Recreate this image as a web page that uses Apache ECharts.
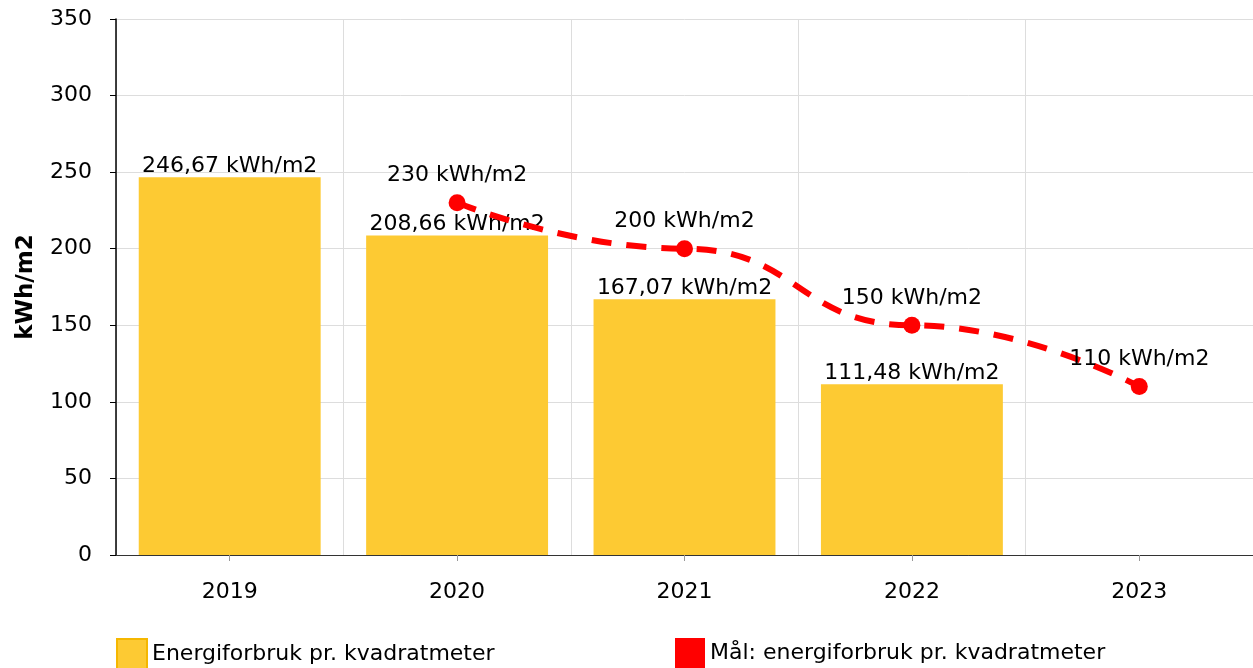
<!DOCTYPE html>
<html>
<head>
<meta charset="utf-8">
<script src="https://cdn.jsdelivr.net/npm/echarts@6/dist/echarts.min.js"></script>
<style>
html,body{margin:0;padding:0;background:#fff;}
#chart{width:1253px;height:668px;}
</style>
</head>
<body>
<div id="chart"></div>
<script>
var categories = ['2019', '2020', '2021', '2022', '2023'];
var energyValues = [246.67, 208.66, 167.07, 111.48, null];
var targetValues = [null, 230, 200, 150, 110];
var yTicks = {min: 0, max: 350, interval: 50};
var seriesNames = ['Energiforbruk pr. kvadratmeter', 'Mål: energiforbruk pr. kvadratmeter'];
var unit = ' kWh/m2';

var FONT = 'DejaVu Sans';
var FS = 22;
var chart = echarts.init(document.getElementById('chart'), null, {renderer: 'canvas'});
function fmt2(v){ return v.toFixed(2).replace('.', ',') + unit; }
function fmt0(v){ return String(v).replace('.', ',') + unit; }

chart.setOption({
  animation: false,
  backgroundColor: '#fff',
  textStyle: {fontFamily: FONT, color: '#000'},
  grid: {left: 116, right: 0, top: 19, bottom: 113, containLabel: false},
  legend: [{
    left: 116, top: 638, padding: 0, itemWidth: 30, itemHeight: 30,
    textStyle: {fontFamily: FONT, fontSize: FS, color: '#000'},
    data: [{name: seriesNames[0], icon: 'rect', itemStyle: {color: '#FDCA33', borderColor: '#F5B700', borderWidth: 2}}]
  }, {
    left: 675, top: 638, padding: 0, itemWidth: 30, itemHeight: 30,
    textStyle: {fontFamily: FONT, fontSize: FS, color: '#000'},
    data: [{name: seriesNames[1], icon: 'rect', itemStyle: {color: '#FF0000', borderWidth: 0}}]
  }],
  xAxis: {
    type: 'category',
    data: categories,
    axisLine: {show: true, lineStyle: {color: '#333', width: 1}},
    axisTick: {show: true, alignWithLabel: true, length: 6, lineStyle: {color: '#999'}},
    axisLabel: {fontFamily: FONT, fontSize: FS, color: '#000', margin: 26},
    splitLine: {show: true, lineStyle: {color: '#ddd', width: 1}}
  },
  yAxis: {
    type: 'value',
    min: yTicks.min, max: yTicks.max, interval: yTicks.interval,
    name: 'kWh/m2',
    nameLocation: 'middle',
    nameRotate: 90,
    nameGap: 78,
    nameTextStyle: {fontFamily: FONT, fontSize: 23, fontWeight: 'bold', color: '#000'},
    axisLine: {show: true, lineStyle: {color: '#000', width: 1.5}},
    axisTick: {show: true, length: 6, lineStyle: {color: '#000'}},
    axisLabel: {fontFamily: FONT, fontSize: FS, color: '#000', margin: 24},
    splitLine: {show: true, lineStyle: {color: '#ddd', width: 1}}
  },
  series: [{
    name: seriesNames[0],
    type: 'bar',
    data: energyValues,
    barCategoryGap: '20%',
    itemStyle: {color: '#FDCA33'},
    label: {show: true, position: 'top', distance: 0, fontFamily: FONT, fontSize: FS, color: '#000',
      formatter: function(p){ return fmt2(p.value); }},
    z: 2
  }, {
    name: seriesNames[1],
    type: 'line',
    data: targetValues,
    smooth: 0.5,
    smoothMonotone: 'x',
    connectNulls: false,
    symbol: 'circle',
    symbolSize: 17,
    itemStyle: {color: '#FF0000'},
    lineStyle: {color: '#FF0000', width: 6, type: [20, 15]},
    label: {show: true, position: 'top', distance: 8, fontFamily: FONT, fontSize: FS, color: '#000',
      formatter: function(p){ return fmt0(p.value); }},
    z: 3
  }]
});
</script>
</body>
</html>
